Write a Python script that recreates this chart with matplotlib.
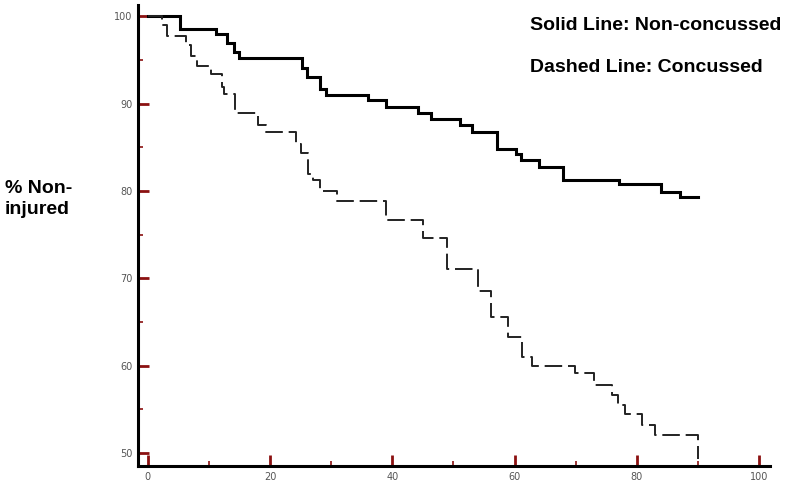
import matplotlib
matplotlib.use("Agg")
import matplotlib.pyplot as plt
from matplotlib.ticker import MultipleLocator

# Non-concussed (solid) step curve: event times and survival %
solid_t = [0, 5.3, 11.1, 13.0, 14.1, 15.0, 25.3, 26.1, 28.2, 29.1, 36.1, 39.0, 44.2,
           46.3, 51.0, 53.1, 57.2, 60.2, 61.0, 64.0, 68.0, 77.1, 83.9, 87.1, 90.1]
solid_s = [100, 98.5, 98.0, 96.9, 95.9, 95.2, 94.1, 93.1, 91.7, 91.0, 90.4, 89.6, 88.9,
           88.3, 87.6, 86.8, 84.8, 84.2, 83.5, 82.8, 81.3, 80.8, 79.9, 79.3, 79.3]

# Concussed (dashed) step curve
dash_t = [0, 2.3, 3.2, 6.2, 7.1, 8.1, 10.3, 12.1, 12.4, 14.2, 18.1, 19.4, 24.3, 25.0,
          26.2, 27.1, 28.2, 31.0, 39.0, 45.0, 49.0, 54.0, 56.1, 59.0, 61.2, 62.8,
          69.9, 73.0, 75.9, 77.0, 78.1, 80.9, 83.0, 90.1]
dash_s = [100, 99.0, 97.7, 96.7, 95.5, 94.3, 93.4, 91.9, 91.1, 88.9, 87.5, 86.7, 85.4, 84.3,
          82.0, 81.2, 80.0, 78.9, 76.7, 74.6, 71.1, 68.6, 65.6, 63.3, 61.0, 60.0,
          59.1, 57.8, 56.6, 55.5, 54.4, 53.2, 52.1, 49.3]

x_ticks = [0, 20, 40, 60, 80, 100]
y_ticks = [50, 60, 70, 80, 90, 100]

fig = plt.figure(figsize=(8, 4.87), dpi=100)
ax = fig.add_axes([138/800, 1-466/487, (770-138)/800, (466-5)/487])

ax.step(solid_t, solid_s, where='post', color='black', lw=2.2, solid_joinstyle='miter')
ax.step(dash_t, dash_s, where='post', color='#222222', lw=1.4, linestyle=(0, (9, 3)))

ax.set_xlim(-1.6, 101.8)
ax.set_ylim(48.5, 101.3)

for s in ['top', 'right']:
    ax.spines[s].set_visible(False)
for s in ['left', 'bottom']:
    ax.spines[s].set_linewidth(2.2)
    ax.spines[s].set_color('black')

ax.set_xticks(x_ticks)
ax.set_yticks(y_ticks)
ax.xaxis.set_minor_locator(MultipleLocator(10))
ax.yaxis.set_minor_locator(MultipleLocator(5))
red = '#8b1010'
ax.tick_params(which='major', direction='in', length=8, width=2, color=red,
               labelsize=7, labelcolor='#555555', pad=4)
ax.tick_params(which='minor', direction='in', length=3.5, width=1.2, color=red)

fig.text(530/800, 1-25/487, 'Solid Line: Non-concussed', fontsize=14, fontweight='bold',
         family='Liberation Sans', va='center', ha='left')
fig.text(530/800, 1-68/487, 'Dashed Line: Concussed', fontsize=14, fontweight='bold',
         family='Liberation Sans', va='center', ha='left')
fig.text(5/800, 1-199/487, '% Non-\ninjured', fontsize=14, fontweight='bold',
         family='Liberation Sans', va='center', ha='left', linespacing=1.35)

fig.savefig('out.png', dpi=100)
